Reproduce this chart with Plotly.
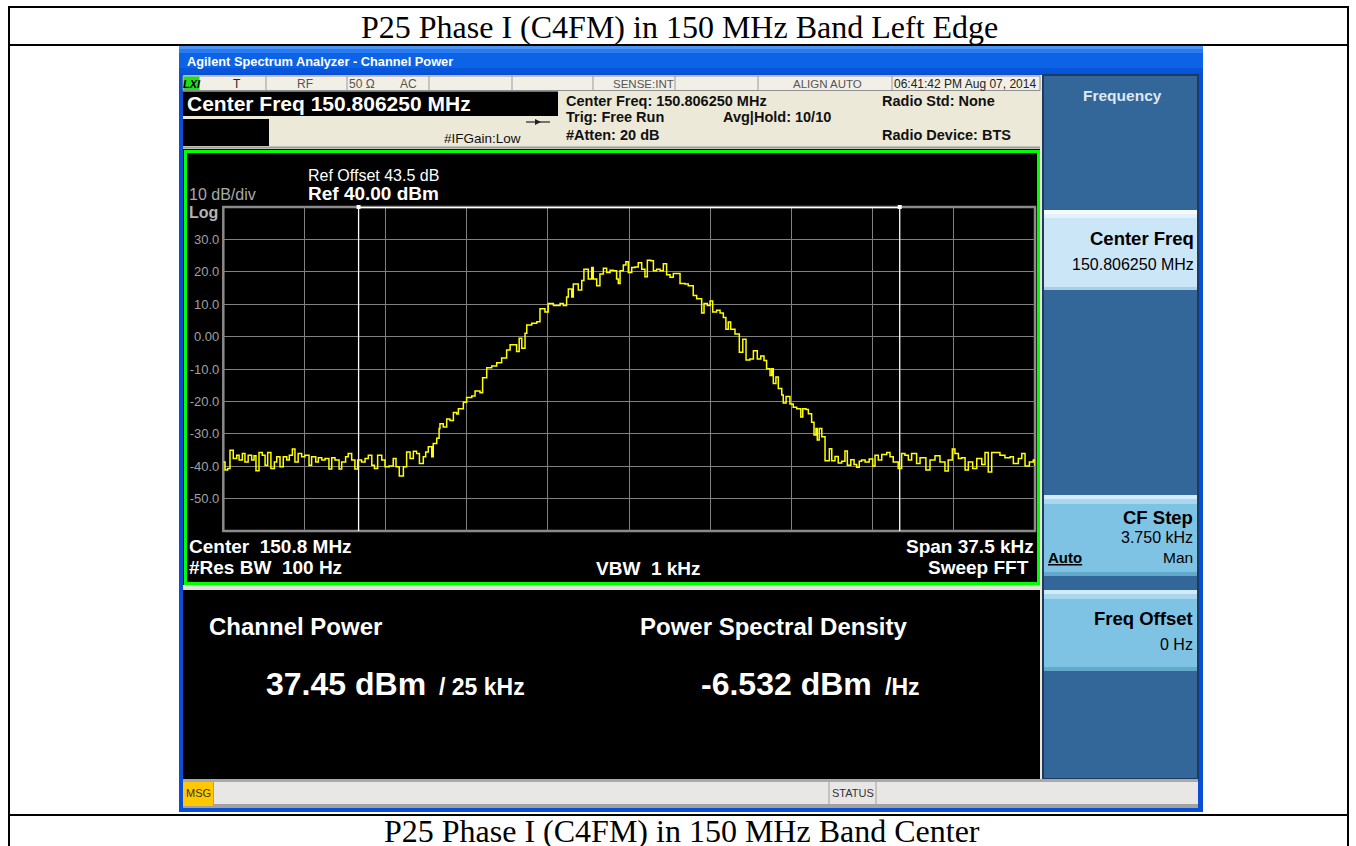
import plotly.graph_objects as go

# ---------------- data ----------------
center_mhz = 150.80625
span_khz = 37.5
ref_level_dbm = 40.0
db_per_div = 10.0
channel_bw_khz = 25.0

freq_khz = [
    -18.75, -18.67, -18.55, -18.44, -18.29, -18.13, -18.02, -17.87, -17.75, -17.60,
    -17.44, -17.33, -17.24, -17.10, -16.95, -16.82, -16.70, -16.55, -16.39, -16.28,
    -16.13, -15.98, -15.82, -15.70, -15.56, -15.44, -15.29, -15.13, -14.98, -14.79,
    -14.67, -14.48, -14.36, -14.20, -14.05, -13.87, -13.74, -13.59, -13.40, -13.28,
    -13.10, -12.98, -12.82, -12.67, -12.54, -12.36, -12.20, -12.05, -11.89, -11.77,
    -11.62, -11.43, -11.28, -11.09, -10.90, -10.77, -10.62, -10.43, -10.28, -10.12,
    -9.97, -9.82, -9.69, -9.51, -9.40, -9.28, -9.12, -9.05, -8.89, -8.78,
    -8.74, -8.59, -8.43, -8.28, -8.12, -7.97, -7.89, -7.66, -7.51, -7.27,
    -7.12, -6.89, -6.77, -6.58, -6.35, -6.12, -5.89, -5.66, -5.50, -5.27,
    -5.20, -5.08, -4.96, -4.81, -4.73, -4.50, -4.27, -4.12, -3.89, -3.74,
    -3.50, -3.19, -3.04, -2.89, -2.81, -2.65, -2.58, -2.35, -2.19, -2.09,
    -1.89, -1.73, -1.66, -1.50, -1.35, -1.19, -1.04, -0.88, -0.73, -0.58,
    -0.50, -0.42, -0.27, -0.15, -0.04, 0.12, 0.27, 0.42, 0.58, 0.73,
    0.84, 1.00, 1.12, 1.27, 1.43, 1.58, 1.73, 1.89, 2.04, 2.16,
    2.35, 2.58, 2.73, 2.96, 3.12, 3.35, 3.46, 3.61, 3.74, 3.86,
    4.04, 4.20, 4.35, 4.47, 4.58, 4.69, 4.89, 5.09, 5.25, 5.40,
    5.58, 5.74, 5.92, 6.08, 6.23, 6.35, 6.51, 6.59, 6.66, 6.78,
    6.89, 7.05, 7.12, 7.25, 7.43, 7.58, 7.74, 7.93, 8.02, 8.17,
    8.28, 8.43, 8.54, 8.63, 8.69, 8.78, 8.90, 9.05, 9.25, 9.36,
    9.51, 9.66, 9.82, 9.97, 10.08, 10.24, 10.39, 10.51, 10.63, 10.74,
    10.90, 11.09, 11.25, 11.36, 11.51, 11.67, 11.90, 12.05, 12.20, 12.43,
    12.59, 12.74, 12.90, 13.05, 13.28, 13.44, 13.71, 13.90, 14.13, 14.36,
    14.59, 14.74, 14.93, 15.05, 15.21, 15.36, 15.52, 15.67, 15.87, 16.06,
    16.29, 16.44, 16.59, 16.75, 16.95, 17.13, 17.36, 17.60, 17.75, 17.98,
    18.14, 18.29, 18.49, 18.67, 18.75,
]

level_dbm = [
    -38.7, -41.2, -40.7, -35.1, -37.6, -36.6, -38.1, -36.1, -38.7, -36.6,
    -38.1, -36.8, -41.4, -35.8, -36.6, -39.7, -35.8, -40.7, -38.7, -37.1,
    -40.2, -37.1, -38.1, -36.6, -34.7, -38.7, -36.1, -37.1, -36.6, -39.7,
    -37.1, -38.7, -37.4, -38.1, -37.6, -40.9, -37.4, -38.1, -40.9, -38.7,
    -37.1, -36.1, -38.1, -40.9, -38.1, -38.7, -37.6, -36.6, -39.7, -40.7,
    -36.6, -38.1, -40.2, -39.9, -37.6, -40.2, -43.0, -40.2, -35.6, -37.6,
    -35.4, -36.1, -39.2, -37.1, -35.6, -34.0, -37.1, -33.0, -31.4, -28.4,
    -26.9, -27.9, -25.4, -25.9, -23.4, -23.9, -22.3, -20.3, -18.8, -18.3,
    -16.8, -17.3, -12.7, -9.6, -9.1, -8.1, -6.6, -4.1, -2.5, -2.5,
    -4.6, -0.5, -3.6, 1.0, 3.6, 4.1, 4.6, 8.6, 7.6, 10.2,
    9.6, 10.2, 9.6, 12.2, 14.7, 12.2, 16.2, 14.4, 17.3, 20.8,
    17.8, 21.3, 17.8, 15.7, 19.3, 21.1, 19.8, 20.5, 20.3, 17.8,
    16.4, 20.3, 22.1, 23.1, 19.8, 21.3, 21.5, 22.8, 20.8, 18.5,
    23.6, 23.4, 20.3, 20.8, 20.3, 22.5, 19.1, 18.3, 19.5, 19.5,
    16.4, 16.2, 15.7, 12.7, 11.7, 7.3, 10.2, 9.6, 11.0, 7.6,
    8.1, 7.3, 5.9, 2.3, 4.5, 2.3, 0.8, -4.8, -0.8, -7.2,
    -6.9, -4.4, -6.9, -6.0, -7.4, -9.9, -12.0, -9.9, -14.5, -12.5,
    -16.0, -18.0, -20.5, -18.5, -20.8, -21.8, -22.3, -24.8, -22.3, -22.5,
    -23.8, -26.4, -30.4, -28.4, -31.9, -28.4, -30.9, -38.3, -34.6, -38.3,
    -37.0, -39.0, -38.5, -35.3, -39.7, -38.0, -39.5, -40.3, -38.5, -38.1,
    -38.7, -37.8, -39.9, -36.6, -38.1, -36.4, -35.8, -37.1, -38.7, -40.7,
    -36.1, -36.6, -38.1, -36.1, -39.2, -37.4, -41.2, -38.1, -36.8, -38.7,
    -41.5, -38.1, -34.7, -36.1, -37.6, -37.4, -41.2, -38.7, -40.7, -37.6,
    -39.5, -35.8, -41.8, -35.8, -35.8, -36.6, -37.4, -37.1, -39.2, -37.6,
    -36.1, -39.9, -38.7, -38.1, -39.9,
]

y_tick_values = [30, 20, 10, 0, -10, -20, -30, -40, -50]
y_tick_labels = ["30.0", "20.0", "10.0", "0.00", "-10.0", "-20.0", "-30.0", "-40.0", "-50.0"]

# ---------------- layout helpers ----------------
W, H = 1356, 846
SANS = "Liberation Sans, Arial, sans-serif"
SERIF = "Liberation Serif, Times New Roman, serif"
shapes = []
annotations = []


def rect(x0, y0, x1, y1, fill=None, line=None, lw=0, layer="below"):
    shapes.append(dict(type="rect", xref="paper", yref="paper",
                       x0=x0 / W, x1=x1 / W, y0=1 - y1 / H, y1=1 - y0 / H,
                       fillcolor=fill or "rgba(0,0,0,0)",
                       line=dict(color=line or "rgba(0,0,0,0)", width=lw),
                       layer=layer))


def seg(x0, y0, x1, y1, color, w, layer="below"):
    shapes.append(dict(type="line", xref="paper", yref="paper",
                       x0=x0 / W, x1=x1 / W, y0=1 - y0 / H, y1=1 - y1 / H,
                       line=dict(color=color, width=w), layer=layer))


def label(x, y, s, size, color="#000000", weight=400, anchor="left", family=SANS):
    annotations.append(dict(xref="paper", yref="paper", x=x / W, y=1 - y / H,
                            text=s, showarrow=False, xanchor=anchor, yanchor="middle",
                            font=dict(family=family, size=size, color=color, weight=weight),
                            borderpad=0))


NB = "\u00a0"

# ---------------- document table ----------------
seg(8, 7, 1348, 7, "#000000", 2)
seg(8, 45, 1348, 45, "#000000", 2)
seg(8, 815, 1348, 815, "#000000", 2)
seg(9, 6, 9, 846, "#000000", 2)
seg(1348, 6, 1348, 846, "#000000", 2)
label(679, 27, "P25 Phase I (C4FM) in 150 MHz Band Left Edge", 32, "#000000", 400, "center", SERIF)
label(682, 831, "P25 Phase I (C4FM) in 150 MHz Band Center", 32, "#000000", 400, "center", SERIF)

# ---------------- window frame ----------------
rect(179, 46, 1203, 812, fill="#0b4ed6")
rect(179, 46, 1203, 49, fill="#4a95f5")
rect(179, 49, 1203, 53, fill="#2a7bef")
rect(179, 53, 1203, 68, fill="#0d63e6")
rect(179, 68, 1203, 73, fill="#0755da")
label(186, 62, "Agilent Spectrum Analyzer - Channel Power", 12.8, "#ffffff", 700)

# content beige
rect(183, 75, 1198, 779, fill="#ece9d8")

# status row 1
rect(183, 76, 1040, 90.5, fill="#f1efe6", line="#8f8f8f", lw=1)
rect(183.5, 76.5, 199.5, 90, fill="#22dd22")
label(191.5, 83.5, "<i>LXI</i>", 11, "#000000", 700, "center")
for sx in [266, 347, 429, 512, 593, 675, 758, 892]:
    seg(sx, 76, sx, 90.5, "#9a9a9a", 1)
label(237, 83.5, "T", 12, "#222222", 400, "center")
label(305, 83.5, "RF", 12, "#555555", 400, "center")
label(362, 83.5, "50 \u03a9", 12, "#555555", 400, "center")
label(408, 83.5, "AC", 12, "#555555", 400, "center")
label(643, 83.5, "SENSE:INT", 11.5, "#555555", 400, "center")
label(828, 83.5, "ALIGN AUTO", 11.5, "#555555", 400, "center")
label(893, 83.5, "06:41:42 PM Aug 07, 2014", 12, "#222222", 400, "left")

# header block
rect(183, 91.5, 558, 116, fill="#000000")
label(186, 104, "Center Freq 150.806250 MHz", 21, "#ffffff", 700)
rect(183, 119, 269, 146, fill="#000000")
label(443, 138, "#IFGain:Low", 13.5, "#111111", 400)
seg(526, 122, 550, 122, "#222222", 1.2)
shapes.append(dict(type="path", xref="paper", yref="paper",
                   path="M {} {} L {} {} L {} {} Z".format(535 / W, 1 - 119 / H, 541 / W, 1 - 122 / H, 535 / W, 1 - 125 / H),
                   fillcolor="#222222", line=dict(width=0), layer="below"))
label(565, 101, "Center Freq: 150.806250 MHz", 14.5, "#111111", 700)
label(565, 117.5, "Trig: Free Run", 14.5, "#111111", 700)
label(565, 135, "#Atten: 20 dB", 14.5, "#111111", 700)
label(722, 117.5, "Avg|Hold: 10/10", 14.5, "#111111", 700)
label(881, 101, "Radio Std: None", 14.5, "#111111", 700)
label(881, 135.5, "Radio Device: BTS", 14.5, "#111111", 700)
seg(183, 147.5, 1040, 147.5, "#9a9a9a", 2)

# display area
rect(183, 149, 1040, 779, fill="#000000")
rect(185.5, 151.5, 1038.5, 583.5, line="#00ff00", lw=3)
rect(183, 585, 1040, 590, fill="#e4e1d6")

# graph text
label(188, 194, "10 dB/div", 16, "#a9a9a9", 400)
label(188, 212.5, "Log", 16, "#b4b4b4", 700)
label(307, 176, "Ref Offset 43.5 dB", 16, "#ffffff", 400)
label(307, 193.5, "Ref 40.00 dBm", 19, "#ffffff", 700)
label(188, 546, "Center" + NB + NB + "150.8 MHz", 19, "#ffffff", 700)
label(188, 567.5, "#Res BW" + NB + NB + "100 Hz", 19, "#ffffff", 700)
label(648, 568, "VBW" + NB + NB + "1 kHz", 19, "#ffffff", 700, "center")
label(1035, 546, "Span 37.5 kHz", 19, "#ffffff", 700, "right")
label(1030, 567.5, "Sweep FFT", 19, "#ffffff", 700, "right")

# plot border
PX0, PX1, PY0, PY1 = 223.3, 1035.0, 207.0, 531.0
rect(PX0, PY0, PX1, PY1, line="#8a8a8a", lw=2.5)

# measurement results
label(208, 626, "Channel Power", 24, "#ffffff", 700)
label(265, 684, "37.45 dBm", 32, "#ffffff", 700)
label(438, 687, "/ 25 kHz", 23, "#ffffff", 700)
label(639, 626, "Power Spectral Density", 24, "#ffffff", 700)
label(700, 684, "-6.532 dBm", 32, "#ffffff", 700)
label(884, 687, "/Hz", 23, "#ffffff", 700)

# right soft-key panel
rect(1043, 75, 1198, 779, fill="#336699", line="#1c3b62", lw=2)
label(1122, 95, "Frequency", 15.5, "#dfe8f1", 700, "center")
# Center Freq key
rect(1044, 210, 1197, 290, fill="#cbe6f7")
rect(1044, 210, 1197, 214, fill="#f4fafd")
rect(1044, 214, 1197, 218, fill="#e2f1fb")
rect(1044, 287, 1197, 290, fill="#a9cfe6")
label(1195, 238, "Center Freq", 18.5, "#000000", 700, "right")
label(1195, 264, "150.806250 MHz", 16, "#000000", 400, "right")
# CF Step key
rect(1044, 495, 1197, 576, fill="#7fc3e4")
rect(1044, 495, 1197, 499, fill="#d2ecf7")
rect(1044, 499, 1197, 504, fill="#a8d7ee")
rect(1044, 572, 1197, 576, fill="#63a9cc")
label(1194, 517, "CF Step", 18.5, "#000000", 700, "right")
label(1194, 537, "3.750 kHz", 16, "#000000", 400, "right")
label(1047, 557, "<u>Auto</u>", 15, "#000000", 700, "left")
label(1194, 557, "Man", 15.5, "#000000", 400, "right")
# Freq Offset key
rect(1044, 590, 1197, 671, fill="#7fc3e4")
rect(1044, 590, 1197, 594, fill="#d2ecf7")
rect(1044, 594, 1197, 599, fill="#a8d7ee")
rect(1044, 667, 1197, 671, fill="#63a9cc")
label(1194, 618.5, "Freq Offset", 18.5, "#000000", 700, "right")
label(1194, 644, "0 Hz", 16, "#000000", 400, "right")

# bottom status bar
rect(183, 779, 1198, 808, fill="#e9e6e6")
rect(183, 779, 1198, 782, fill="#a9a9a9")
rect(183, 804, 1198, 808, fill="#a2a2a2")
rect(183, 782, 213, 806, fill="#ffc800")
label(198, 793, "MSG", 11, "#333333", 400, "center")
seg(213.5, 782, 213.5, 804, "#a0a0a0", 1)
seg(829, 782, 829, 804, "#a0a0a0", 1)
seg(876, 782, 876, 804, "#a0a0a0", 1)
label(852.5, 793, "STATUS", 11, "#333333", 400, "center")

# ---------------- traces ----------------
half_span = span_khz / 2
bottom_level = ref_level_dbm - 10 * db_per_div
edge = channel_bw_khz / 2

fig = go.Figure()
for xe in (-edge, edge):
    fig.add_trace(go.Scatter(x=[xe, xe], y=[bottom_level, ref_level_dbm], mode="lines",
                             line=dict(color="#ffffff", width=1.3), hoverinfo="skip",
                             showlegend=False))
fig.add_trace(go.Scatter(x=[-edge, edge], y=[ref_level_dbm, ref_level_dbm], mode="lines+markers",
                         line=dict(color="#ffffff", width=2.5),
                         marker=dict(symbol="square", size=4, color="#ffffff"),
                         cliponaxis=False, hoverinfo="skip", showlegend=False))
fig.add_trace(go.Scatter(x=freq_khz, y=level_dbm, mode="lines", line_shape="hv",
                         line=dict(color="#ffff00", width=1.5), showlegend=False,
                         name="Trace 1"))

fig.update_layout(
    width=W, height=H,
    margin=dict(l=0, r=0, t=0, b=0),
    paper_bgcolor="#ffffff",
    plot_bgcolor="rgba(0,0,0,0)",
    shapes=shapes,
    annotations=annotations,
    showlegend=False,
    xaxis=dict(domain=[PX0 / W, PX1 / W], range=[-half_span, half_span],
               tick0=-half_span, dtick=span_khz / 10, showgrid=True,
               gridcolor="#808080", gridwidth=1.2, zeroline=False,
               showticklabels=False, ticks="", showline=False, fixedrange=True),
    yaxis=dict(domain=[1 - PY1 / H, 1 - PY0 / H], range=[bottom_level, ref_level_dbm],
               tickmode="array", tickvals=y_tick_values, ticktext=y_tick_labels,
               showgrid=True, gridcolor="#808080", gridwidth=1.2, zeroline=False,
               ticks="", ticklen=0, ticklabelstandoff=3, showline=False,
               tickfont=dict(family=SANS, size=13, color="#a0a0a0"), fixedrange=True),
)
fig.update_yaxes(minor=dict(tickvals=[ref_level_dbm - k * db_per_div for k in range(11)],
                            showgrid=True, gridcolor="#808080", gridwidth=1.2))

fig.write_html("out.html", include_plotlyjs=True, config={"displayModeBar": False})
